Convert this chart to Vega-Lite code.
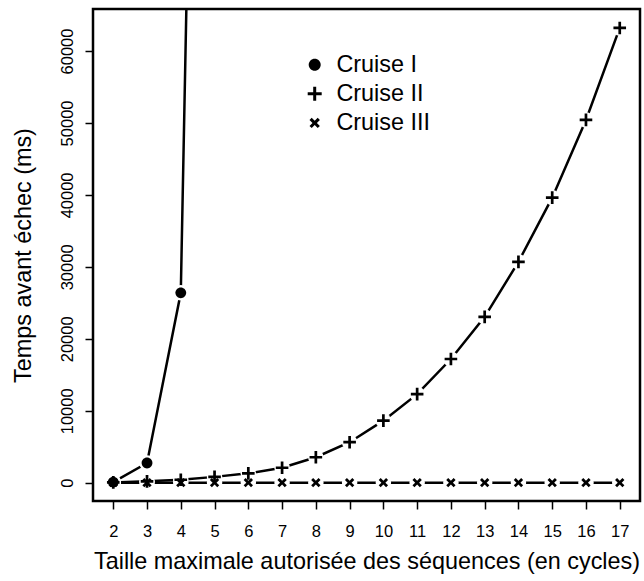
{
  "$schema": "https://vega.github.io/schema/vega-lite/v6.json",
  "width": 547,
  "height": 492,
  "autosize": "none",
  "padding": {"left": 93, "top": 9, "right": 4, "bottom": 80},
  "background": "white",
  "config": {
    "view": {"stroke": "black", "strokeWidth": 2.5},
    "font": "Liberation Sans",
    "axis": {
      "grid": false, "domain": false,
      "tickColor": "black", "tickWidth": 1.5, "tickSize": 8,
      "labelColor": "black", "titleColor": "black",
      "labelFont": "Liberation Sans", "titleFont": "Liberation Sans",
      "labelFontSize": 16.5, "titleFontSize": 23.4, "titleFontWeight": "normal"
    }
  },
  "data": {
    "values": [
      {"taille": 2, "temps": 100, "serie": "Cruise I"},
      {"taille": 3, "temps": 2750, "serie": "Cruise I"},
      {"taille": 4, "temps": 26400, "serie": "Cruise I"},
      {"taille": 5, "temps": 266000, "serie": "Cruise I"},
      {"taille": 2, "temps": 50, "serie": "Cruise II"},
      {"taille": 3, "temps": 200, "serie": "Cruise II"},
      {"taille": 4, "temps": 420, "serie": "Cruise II"},
      {"taille": 5, "temps": 820, "serie": "Cruise II"},
      {"taille": 6, "temps": 1310, "serie": "Cruise II"},
      {"taille": 7, "temps": 2090, "serie": "Cruise II"},
      {"taille": 8, "temps": 3550, "serie": "Cruise II"},
      {"taille": 9, "temps": 5640, "serie": "Cruise II"},
      {"taille": 10, "temps": 8630, "serie": "Cruise II"},
      {"taille": 11, "temps": 12320, "serie": "Cruise II"},
      {"taille": 12, "temps": 17200, "serie": "Cruise II"},
      {"taille": 13, "temps": 23050, "serie": "Cruise II"},
      {"taille": 14, "temps": 30700, "serie": "Cruise II"},
      {"taille": 15, "temps": 39620, "serie": "Cruise II"},
      {"taille": 16, "temps": 50420, "serie": "Cruise II"},
      {"taille": 17, "temps": 63200, "serie": "Cruise II"},
      {"taille": 2, "temps": 20, "serie": "Cruise III"},
      {"taille": 3, "temps": 20, "serie": "Cruise III"},
      {"taille": 4, "temps": 20, "serie": "Cruise III"},
      {"taille": 5, "temps": 20, "serie": "Cruise III"},
      {"taille": 6, "temps": 20, "serie": "Cruise III"},
      {"taille": 7, "temps": 20, "serie": "Cruise III"},
      {"taille": 8, "temps": 20, "serie": "Cruise III"},
      {"taille": 9, "temps": 20, "serie": "Cruise III"},
      {"taille": 10, "temps": 20, "serie": "Cruise III"},
      {"taille": 11, "temps": 20, "serie": "Cruise III"},
      {"taille": 12, "temps": 20, "serie": "Cruise III"},
      {"taille": 13, "temps": 20, "serie": "Cruise III"},
      {"taille": 14, "temps": 20, "serie": "Cruise III"},
      {"taille": 15, "temps": 20, "serie": "Cruise III"},
      {"taille": 16, "temps": 20, "serie": "Cruise III"},
      {"taille": 17, "temps": 20, "serie": "Cruise III"}
    ]
  },
  "encoding": {
    "x": {
      "field": "taille", "type": "quantitative",
      "scale": {"domain": [1.4, 17.6], "nice": false, "zero": false},
      "axis": {
        "values": [2, 3, 4, 5, 6, 7, 8, 9, 10, 11, 12, 13, 14, 15, 16, 17],
        "title": "Taille maximale autorisée des séquences (en cycles)",
        "labelPadding": 14.5, "labelBaseline": "top", "labelFlush": false, "labelOverlap": false,
        "titleY": 67, "titleBaseline": "alphabetic"
      }
    },
    "y": {
      "field": "temps", "type": "quantitative",
      "scale": {"domain": [-2532, 65832], "nice": false, "zero": false},
      "axis": {
        "values": [0, 10000, 20000, 30000, 40000, 50000, 60000],
        "format": "d",
        "labelAngle": -90, "labelAlign": "center", "labelBaseline": "bottom",
        "labelPadding": 9.5, "labelFlush": false, "labelOverlap": false,
        "title": "Temps avant échec (ms)",
        "titleX": -63, "titleBaseline": "alphabetic", "titleAngle": 270
      }
    }
  },
  "layer": [
    {
      "mark": {"type": "line", "color": "black", "strokeWidth": 2.5, "clip": true},
      "encoding": {"detail": {"field": "serie"}}
    },
    {
      "mark": {"type": "point", "filled": true, "clip": true},
      "encoding": {
        "detail": {"field": "serie"},
        "fill": {"value": "white"},
        "size": {"value": 240},
        "opacity": {"value": 1},
        "shape": {"value": "circle"}
      }
    },
    {
      "mark": {"type": "point", "filled": true, "clip": true},
      "encoding": {
        "fill": {"value": "black"},
        "opacity": {"value": 1},
        "size": {"value": 81},
        "shape": {
          "field": "serie", "type": "nominal",
          "scale": {
            "domain": ["Cruise I", "Cruise II", "Cruise III"],
            "range": [
              "M-1.2,0A1.2,1.2,0,1,1,1.2,0A1.2,1.2,0,1,1,-1.2,0Z",
              "M-1.4,-0.3L-0.3,-0.3L-0.3,-1.4L0.3,-1.4L0.3,-0.3L1.4,-0.3L1.4,0.3L0.3,0.3L0.3,1.4L-0.3,1.4L-0.3,0.3L-1.4,0.3Z",
              "M-0.6,-1.04L0,-0.44L0.6,-1.04L1.04,-0.6L0.44,0L1.04,0.6L0.6,1.04L0,0.44L-0.6,1.04L-1.04,0.6L-0.44,0L-1.04,-0.6Z"
            ]
          },
          "legend": {
            "title": null, "orient": "none", "legendX": 210, "legendY": 44,
            "labelFontSize": 23.4, "labelFont": "Liberation Sans", "labelColor": "black",
            "symbolSize": 100, "symbolStrokeWidth": 0,
            "symbolFillColor": "black", "symbolOpacity": 1,
            "labelOffset": 10, "rowPadding": 4.1, "padding": 0
          }
        }
      }
    }
  ]
}
